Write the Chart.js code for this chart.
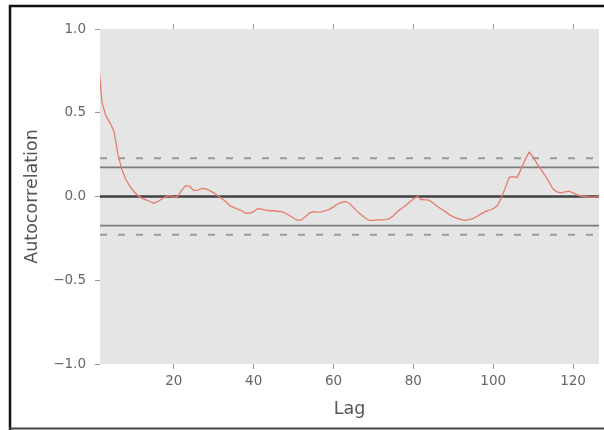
<!DOCTYPE html>
<html lang="en">

<head>
    <meta charset="UTF-8">
    <title>Autocorrelation Plot</title>
    <script src="https://cdn.jsdelivr.net/npm/chart.js"></script>
    <style>
        html,
        body {
            margin: 0;
            padding: 0;
            background: #ffffff;
            overflow: hidden;
        }

        .chart-container {
            position: relative;
            width: 604px;
            height: 430px;
        }

        canvas {
            display: block;
        }
    </style>
</head>

<body>
    <div class="chart-container">
        <canvas id="acfChart" width="604" height="430"></canvas>
    </div>

    <script>
        // autocorrelation per lag
        const acfValues = [
            0.84, 0.56, 0.48, 0.44, 0.39, 0.25, 0.16, 0.10, 0.06, 0.03,
            0.005, -0.01, -0.02, -0.03, -0.04, -0.03, -0.015, 0.00, 0.005, -0.005,
            0.00, 0.04, 0.065, 0.06, 0.035, 0.038, 0.048, 0.045, 0.035, 0.022,
            0.005, -0.012, -0.03, -0.055, -0.065, -0.075, -0.085, -0.10, -0.10, -0.09,
            -0.072, -0.075, -0.082, -0.085, -0.085, -0.088, -0.09, -0.10, -0.115, -0.13,
            -0.142, -0.14, -0.12, -0.098, -0.09, -0.093, -0.092, -0.085, -0.075, -0.062,
            -0.045, -0.035, -0.03, -0.042, -0.065, -0.09, -0.11, -0.13, -0.143, -0.143,
            -0.139, -0.139, -0.138, -0.132, -0.115, -0.09, -0.072, -0.055, -0.035, -0.015,
            0.00, -0.018, -0.02, -0.022, -0.04, -0.06, -0.075, -0.09, -0.108, -0.122,
            -0.13, -0.138, -0.142, -0.138, -0.13, -0.118, -0.104, -0.09, -0.082, -0.073,
            -0.055, -0.01, 0.05, 0.115, 0.119, 0.113, 0.165, 0.22, 0.265, 0.235,
            0.195, 0.16, 0.125, 0.085, 0.045, 0.028, 0.022, 0.028, 0.032, 0.022,
            0.01, 0.003, 0.0, -0.003, -0.004, -0.002, 0.0
        ];
        const lags = acfValues.map((_, i) => i + 1);

        const band95 = 0.174;   // solid grey lines
        const band99 = 0.229;   // dashed grey lines
        const zeroLevel = 0.0;

        const lagMin = 1.5;
        const lagMax = 126.5;
        const lagStep = 20;
        const yTicks = [-1.0, -0.5, 0.0, 0.5, 1.0];

        const seriesPoints = lags.map((lag, i) => ({ x: lag, y: acfValues[i] }));
        const hLine = v => [{ x: lagMin, y: v }, { x: lagMax, y: v }];

        const tickFont = { family: 'DejaVu Sans', size: 13.5 };
        const titleFont = { family: 'DejaVu Sans', size: 17.5 };

        // grey panel + the black frame around the picture
        const framePlugin = {
            id: 'frame',
            beforeDraw(chart) {
                const { ctx, chartArea: a } = chart;
                ctx.save();
                ctx.fillStyle = '#ffffff';
                ctx.fillRect(0, 0, chart.width, chart.height);
                ctx.fillStyle = '#e5e5e5';
                ctx.fillRect(a.left, a.top, a.right - a.left, a.bottom - a.top);
                ctx.strokeStyle = '#111111';
                ctx.lineWidth = 2.5;
                ctx.beginPath();
                ctx.moveTo(10, 430);
                ctx.lineTo(10, 6);
                ctx.lineTo(604, 6);
                ctx.stroke();
                ctx.strokeStyle = '#444444';
                ctx.lineWidth = 2;
                ctx.beginPath();
                ctx.moveTo(9, 428.5);
                ctx.lineTo(604, 428.5);
                ctx.stroke();
                ctx.restore();
            }
        };

        new Chart(document.getElementById('acfChart').getContext('2d'), {
            type: 'line',
            data: {
                datasets: [
                    { data: seriesPoints, borderColor: '#e57c6c', borderWidth: 1.3 },
                    { data: hLine(band99), borderColor: '#9a9a9a', borderWidth: 2, borderDash: [7, 11] },
                    { data: hLine(band95), borderColor: '#7d7d7d', borderWidth: 1.6 },
                    { data: hLine(zeroLevel), borderColor: '#404040', borderWidth: 2.4 },
                    { data: hLine(-band95), borderColor: '#7d7d7d', borderWidth: 1.6 },
                    { data: hLine(-band99), borderColor: '#9a9a9a', borderWidth: 2, borderDash: [7, 11] }
                ]
            },
            options: {
                responsive: false,
                animation: false,
                devicePixelRatio: 1,
                layout: { padding: { top: 23, left: 0, right: 5, bottom: 0 } },
                elements: { point: { radius: 0 }, line: { tension: 0 } },
                plugins: { legend: { display: false }, tooltip: { enabled: false } },
                scales: {
                    x: {
                        type: 'linear',
                        min: lagMin,
                        max: lagMax,
                        afterFit: s => { s.height = 66; },
                        border: { display: false },
                        grid: { drawOnChartArea: false, tickLength: 5, color: '#999999' },
                        ticks: {
                            stepSize: lagStep,
                            includeBounds: false,
                            color: '#666666',
                            font: tickFont,
                            padding: 4,
                            maxRotation: 0
                        },
                        title: { display: true, text: 'Lag', color: '#555555', font: titleFont, padding: { top: 0, bottom: 10 } }
                    },
                    xTop: {
                        type: 'linear',
                        position: 'top',
                        min: lagMin,
                        max: lagMax,
                        afterFit: s => { s.height = 6; },
                        border: { display: false },
                        grid: { drawOnChartArea: false, tickLength: 5, color: '#999999' },
                        ticks: { color: 'rgba(0,0,0,0)', stepSize: lagStep, includeBounds: false, font: { size: 1 }, padding: 0 }
                    },
                    y: {
                        min: -1,
                        max: 1,
                        afterFit: s => { s.width = 100; },
                        afterBuildTicks: s => { s.ticks = yTicks.map(v => ({ value: v })); },
                        border: { display: false },
                        grid: { drawOnChartArea: false, tickLength: 5, color: '#999999' },
                        ticks: {
                            color: '#666666',
                            font: tickFont,
                            padding: 9,
                            callback: v => (v < 0 ? '\u2212' : '') + Math.abs(v).toFixed(1)
                        },
                        title: { display: true, text: 'Autocorrelation', color: '#555555', font: titleFont, padding: { top: 22, bottom: 0 } }
                    }
                }
            },
            plugins: [framePlugin]
        });
    </script>
</body>

</html>
